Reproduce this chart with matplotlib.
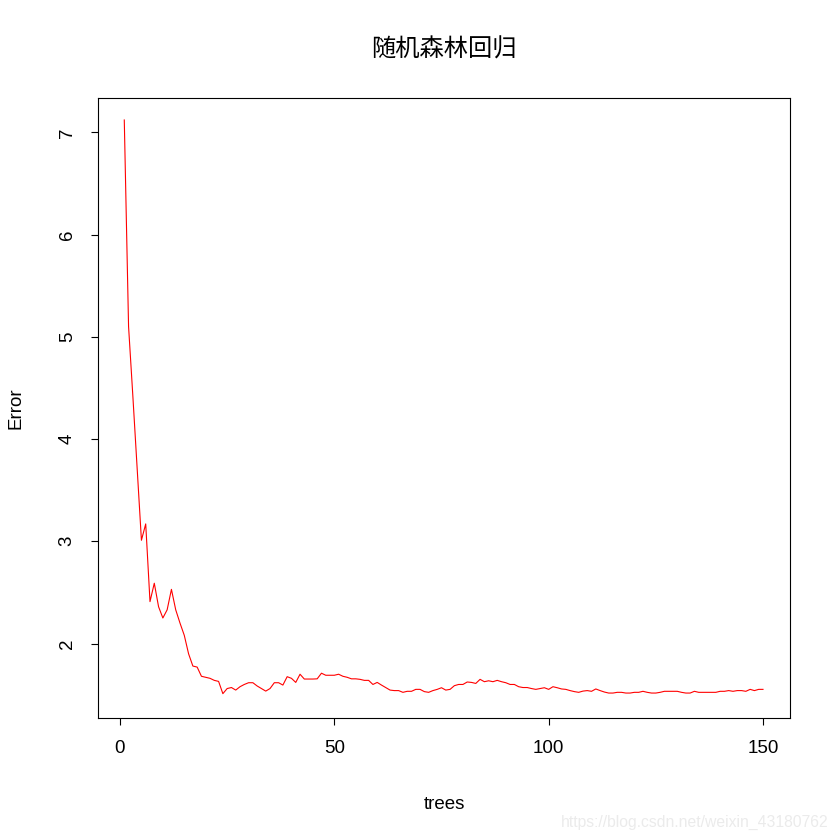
import numpy as np
import matplotlib
matplotlib.use("Agg")
import matplotlib.pyplot as plt

# error of the random forest regression vs. number of trees
trees = np.arange(1, 151)
error = [
    7.12, 5.10, 4.42, 3.72, 3.01, 3.17, 2.41, 2.59, 2.36, 2.25,
    2.33, 2.53, 2.33, 2.20, 2.08, 1.90, 1.78, 1.77, 1.68, 1.67,
    1.66, 1.64, 1.63, 1.51, 1.56, 1.57, 1.545, 1.578, 1.60, 1.617,
    1.617, 1.585, 1.56, 1.535, 1.56, 1.617, 1.617, 1.594, 1.676, 1.66,
    1.62, 1.70, 1.653, 1.653, 1.653, 1.655, 1.71, 1.69, 1.69, 1.69,
    1.70, 1.68, 1.67, 1.655, 1.655, 1.65, 1.64, 1.64, 1.60, 1.62,
    1.594, 1.57, 1.545, 1.54, 1.54, 1.523, 1.533, 1.533, 1.552, 1.552,
    1.53, 1.523, 1.54, 1.552, 1.568, 1.545, 1.552, 1.588, 1.60, 1.60,
    1.624, 1.62, 1.61, 1.65, 1.627, 1.636, 1.627, 1.64, 1.627, 1.617,
    1.60, 1.60, 1.578, 1.57, 1.57, 1.56, 1.552, 1.56, 1.568, 1.552,
    1.578, 1.568, 1.556, 1.552, 1.54, 1.53, 1.523, 1.535, 1.54, 1.533,
    1.556, 1.54, 1.526, 1.516, 1.516, 1.523, 1.523, 1.516, 1.516, 1.523,
    1.523, 1.533, 1.523, 1.516, 1.516, 1.523, 1.533, 1.533, 1.533, 1.533,
    1.523, 1.516, 1.516, 1.533, 1.523, 1.523, 1.523, 1.523, 1.523, 1.533,
    1.533, 1.54, 1.533, 1.54, 1.54, 1.533, 1.552, 1.54, 1.552, 1.552,
]
xticks = [0, 50, 100, 150]
yticks = [2, 3, 4, 5, 6, 7]

plt.rcParams['font.family'] = ['Liberation Sans', 'Noto Sans CJK SC', 'DejaVu Sans']

fig = plt.figure(figsize=(8.4, 8.4), dpi=100)
ax = fig.add_axes([98 / 840, 1 - 718 / 840, 692 / 840, 620 / 840])

ax.plot(trees, error, color='red', linewidth=0.8)

ax.set_xlim(-5.13, 156.3)
ax.set_ylim(1.272, 7.335)
ax.set_xticks(xticks)
ax.set_yticks(yticks)
ax.tick_params(direction='out', length=5, width=0.8, labelsize=13.5, pad=11)
for lab in ax.get_yticklabels():
    lab.set_rotation(90)
    lab.set_va('center')
for s in ax.spines.values():
    s.set_linewidth(0.8)

ax.set_xlabel("trees", fontsize=13.5, labelpad=28)
ax.set_ylabel("Error", fontsize=13.5, labelpad=25)
fig.text(444 / 840, 1 - 50 / 840, "随机森林回归", ha='center', va='center',
         fontsize=17.5, family=['Noto Sans CJK SC', 'DejaVu Sans'])

# csdn watermark
fig.text(828 / 840, 1 - 822 / 840, "https://blog.csdn.net/weixin_43180762",
         ha='right', va='center', fontsize=11.3, color='#ebebeb')

fig.savefig("out.png", dpi=100)
